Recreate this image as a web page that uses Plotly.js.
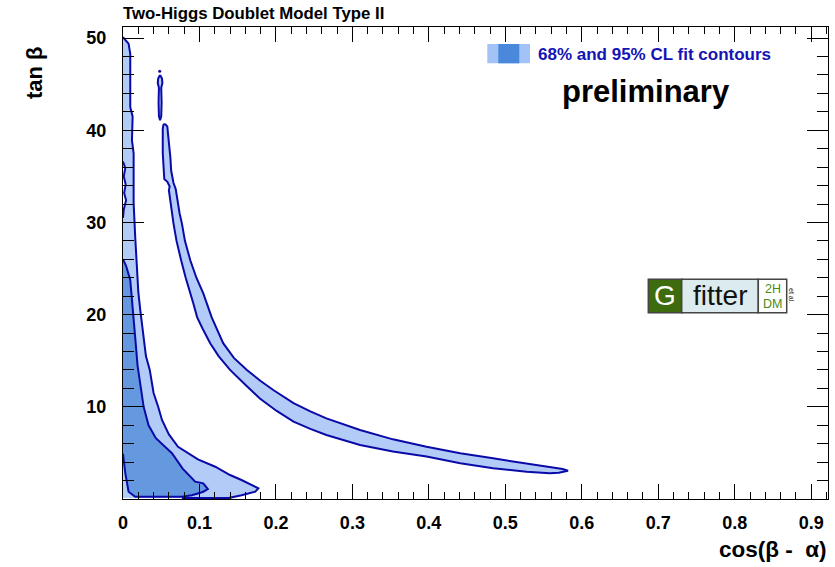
<!DOCTYPE html>
<html><head><meta charset="utf-8">
<script src="https://cdn.plot.ly/plotly-3.0.1.min.js"></script>
<style>html,body{margin:0;padding:0;background:#fff}#chart{width:835px;height:567px}</style>
</head><body><div id="chart"></div>
<script>
// ---- tick labels ----
const xTickVals = [0, 0.1, 0.2, 0.3, 0.4, 0.5, 0.6, 0.7, 0.8, 0.9];
const xTickText = ['0', '0.1', '0.2', '0.3', '0.4', '0.5', '0.6', '0.7', '0.8', '0.9'];
const yTickVals = [10, 20, 30, 40, 50];
const yTickText = ['10', '20', '30', '40', '50'];

// ---- 95% CL region hugging the y axis: right boundary (top -> bottom) ----
const cl95LeftX = [0, 0.0073, 0.0095, 0.0095, 0.0126, 0.0117, 0.0139, 0.0139, 0.016, 0.018, 0.020, 0.0226, 0.027, 0.030, 0.035, 0.040, 0.046, 0.051, 0.060, 0.072, 0.098, 0.1206, 0.14, 0.155, 0.177, 0.173, 0.155, 0.138, 0.077];
const cl95LeftY = [50.1, 49.4, 48.3, 42.5, 41.5, 38.9, 37.5, 32.1, 28.4, 24.8, 22.5, 20.5, 17.2, 15.5, 14.0, 11.5, 10.0, 8.57, 7.0, 5.67, 4.3, 3.5, 2.6, 2.06, 1.16, 0.8, 0.4, 0.1, 0.1];
// small wiggle of the 95% contour along the y axis (bottom -> top)
const cl95EdgeX = [0, 0.001, 0.004, 0.0015, 0.0035, 0.001, 0.003, 0];
const cl95EdgeY = [30.5, 31.4, 32.4, 33.2, 34.1, 35.0, 35.9, 36.6];
// axis corner point closing the region
const cl95CornerX = [0];
const cl95CornerY = [0.1];

// ---- 68% CL region ----
const cl68X = [0, 0.004, 0.0095, 0.012, 0.0139, 0.017, 0.019, 0.0215, 0.027, 0.0334, 0.043, 0.064, 0.078, 0.0944, 0.105, 0.111, 0.105, 0.100, 0.090, 0.077, 0.016, 0.0073, 0.003, 0];
const cl68Y = [26.0, 25.3, 23.75, 21.5, 20.1, 16.5, 14.5, 12.9, 10.0, 8.0, 6.6, 4.96, 3.3, 1.88, 1.70, 1.08, 0.79, 0.65, 0.4, 0.25, 0.25, 0.79, 2.8, 4.9];

// ---- 95% CL band (wrong-sign branch) ----
const bandX = [0.055, 0.058, 0.059, 0.061, 0.062, 0.063, 0.064, 0.066, 0.069, 0.071, 0.074, 0.077, 0.081, 0.088, 0.096, 0.105, 0.116, 0.131, 0.145, 0.162, 0.180, 0.197, 0.223, 0.245, 0.266, 0.310, 0.353, 0.397, 0.441, 0.484, 0.528, 0.558, 0.575, 0.582, 0.570, 0.558, 0.528, 0.484, 0.441, 0.397, 0.353, 0.310, 0.266, 0.245, 0.223, 0.201, 0.179, 0.160, 0.140, 0.125, 0.114, 0.104, 0.097, 0.092, 0.088, 0.082, 0.076, 0.070, 0.066, 0.062, 0.060, 0.061, 0.058, 0.054, 0.053, 0.052, 0.052, 0.052, 0.053];
const bandY = [40.7, 40.4, 39.5, 38.0, 37.0, 35.6, 35.0, 34.3, 33.6, 32.5, 31.0, 29.9, 28.0, 25.9, 24.0, 22.3, 19.7, 16.9, 15.3, 14.0, 12.8, 11.8, 10.4, 9.5, 8.75, 7.48, 6.47, 5.67, 4.96, 4.41, 3.87, 3.5, 3.25, 3.07, 2.85, 2.79, 2.96, 3.33, 3.87, 4.6, 5.15, 5.86, 6.94, 7.6, 8.4, 9.55, 10.9, 12.4, 14.0, 15.5, 16.9, 18.5, 19.7, 21.2, 22.3, 24.0, 25.9, 28.0, 29.9, 32.0, 33.5, 33.9, 34.4, 34.7, 36.0, 37.5, 39.0, 40.2, 40.6];

// ---- small 95% island at top ----
const islandX = [0.0485, 0.051, 0.0515, 0.050, 0.0505, 0.050, 0.0485, 0.047, 0.0465, 0.047, 0.0455, 0.046, 0.0485];
const islandY = [46.0, 45.6, 45.1, 44.6, 43.0, 41.5, 41.1, 41.5, 43.0, 44.6, 45.1, 45.6, 46.0];
const islandDotX = [0.048];
const islandDotY = [46.4];

const C95 = '#b3cbf7', C68 = '#6499df', CLINE = '#0a0aa8';
const FONT = 'Liberation Sans, Arial, Helvetica, sans-serif';

const left95FillX = cl95LeftX.concat(cl95CornerX, cl95EdgeX);
const left95FillY = cl95LeftY.concat(cl95CornerY, cl95EdgeY);

const fillTrace = (x, y, c) => ({x, y, type: 'scatter', mode: 'lines', fill: 'toself', fillcolor: c, line: {width: 0, color: c}, hoverinfo: 'skip', showlegend: false});
const lineTrace = (x, y) => ({x, y, type: 'scatter', mode: 'lines', line: {width: 2, color: CLINE}, hoverinfo: 'skip', showlegend: false});

const data = [
  fillTrace(left95FillX, left95FillY, C95),
  fillTrace(cl68X, cl68Y, C68),
  fillTrace(bandX, bandY, C95),
  fillTrace(islandX, islandY, C95),
  lineTrace(cl95LeftX, cl95LeftY),
  lineTrace(cl95EdgeX, cl95EdgeY),
  lineTrace(cl68X, cl68Y),
  lineTrace(bandX.concat([bandX[0]]), bandY.concat([bandY[0]])),
  lineTrace(islandX, islandY),
  {x: islandDotX, y: islandDotY, type: 'scatter', mode: 'markers', marker: {size: 3, color: CLINE}, hoverinfo: 'skip', showlegend: false}
];

const W = 705, H = 472, L = 123, T = 27;
const px = v => (v - L) / W;
const py = v => (T + H - v) / H;

const layout = {
  width: 835, height: 567,
  margin: {l: L, r: 835 - L - W, t: T, b: 567 - T - H},
  paper_bgcolor: '#fff', plot_bgcolor: '#fff',
  showlegend: false,
  font: {family: FONT, color: '#000'},
  xaxis: {
    range: [0, 0.922], tickmode: 'array', tickvals: xTickVals, ticktext: xTickText,
    ticks: 'inside', ticklen: 15, tickwidth: 1, tickcolor: '#000',
    showline: true, linecolor: '#000', linewidth: 1, mirror: 'ticks',
    showgrid: false, zeroline: false,
    minor: {tickmode: 'linear', tick0: 0, dtick: 0.02, ticks: 'inside', ticklen: 7, tickcolor: '#000', showgrid: false},
    tickfont: {family: FONT, size: 18, weight: 'bold', color: '#000'},
    ticklabelstandoff: 7
  },
  yaxis: {
    range: [0, 51.2], tickmode: 'array', tickvals: yTickVals, ticktext: yTickText,
    ticks: 'inside', ticklen: 21, tickwidth: 1, tickcolor: '#000',
    showline: true, linecolor: '#000', linewidth: 1, mirror: 'ticks',
    showgrid: false, zeroline: false,
    minor: {tickmode: 'linear', tick0: 0, dtick: 2, ticks: 'inside', ticklen: 11, tickcolor: '#000', showgrid: false},
    tickfont: {family: FONT, size: 18, weight: 'bold', color: '#000'},
    ticklabelstandoff: 12
  },
  shapes: [
    {type: 'rect', xref: 'paper', yref: 'paper', x0: px(487.3), x1: px(530), y0: py(63.3), y1: py(44), fillcolor: '#a3c3f6', line: {width: 0}},
    {type: 'rect', xref: 'paper', yref: 'paper', x0: px(498.3), x1: px(519.3), y0: py(63.3), y1: py(44), fillcolor: '#4a88dc', line: {width: 0}},
    {type: 'rect', xref: 'paper', yref: 'paper', x0: px(648.3), x1: px(681.7), y0: py(312.7), y1: py(279.3), fillcolor: '#3d6b0d', line: {width: 1.5, color: '#444'}},
    {type: 'rect', xref: 'paper', yref: 'paper', x0: px(681.7), x1: px(758.3), y0: py(312.7), y1: py(279.3), fillcolor: '#dcecee', line: {width: 1.5, color: '#444'}},
    {type: 'rect', xref: 'paper', yref: 'paper', x0: px(758.3), x1: px(786.7), y0: py(312.7), y1: py(279.3), fillcolor: '#ffffff', line: {width: 1.5, color: '#444'}}
  ],
  annotations: [
    {text: 'Two-Higgs Doublet Model Type II', xref: 'paper', yref: 'paper', x: px(121), y: py(14), xanchor: 'left', yanchor: 'middle', showarrow: false, font: {family: FONT, size: 16.8, weight: 'bold', color: '#000'}},
    {text: '68% and 95% CL fit contours', xref: 'paper', yref: 'paper', x: px(536), y: py(55), xanchor: 'left', yanchor: 'middle', showarrow: false, font: {family: FONT, size: 17, weight: 'bold', color: '#1414b4'}},
    {text: 'preliminary', xref: 'paper', yref: 'paper', x: px(646), y: py(92), xanchor: 'center', yanchor: 'middle', showarrow: false, font: {family: FONT, size: 31, weight: 'bold', color: '#000'}},
    {text: 'G', xref: 'paper', yref: 'paper', x: px(665), y: py(296), xanchor: 'center', yanchor: 'middle', showarrow: false, font: {family: FONT, size: 28, color: '#fff'}},
    {text: 'fitter', xref: 'paper', yref: 'paper', x: px(720), y: py(295), xanchor: 'center', yanchor: 'middle', showarrow: false, font: {family: FONT, size: 28, color: '#111'}},
    {text: '2H', xref: 'paper', yref: 'paper', x: px(772.5), y: py(288.5), xanchor: 'center', yanchor: 'middle', showarrow: false, font: {family: FONT, size: 12.5, color: '#4a8a14'}},
    {text: 'DM', xref: 'paper', yref: 'paper', x: px(772.5), y: py(303.5), xanchor: 'center', yanchor: 'middle', showarrow: false, font: {family: FONT, size: 12.5, color: '#4a8a14'}},
    {text: 'et al.', xref: 'paper', yref: 'paper', x: px(792), y: py(295), xanchor: 'center', yanchor: 'middle', textangle: 90, showarrow: false, font: {family: FONT, size: 7, color: '#222'}},
    {text: 'cos(β -  α)', xref: 'paper', yref: 'paper', x: px(829), y: py(549), xanchor: 'right', yanchor: 'middle', showarrow: false, font: {family: FONT, size: 22.5, weight: 'bold', color: '#000'}},
    {text: 'tan β', xref: 'paper', yref: 'paper', x: px(35), y: py(73), xanchor: 'center', yanchor: 'middle', textangle: -90, showarrow: false, font: {family: FONT, size: 22, weight: 'bold', color: '#000'}}
  ]
};

Plotly.newPlot('chart', data, layout, {staticPlot: true, displayModeBar: false});
</script></body></html>
